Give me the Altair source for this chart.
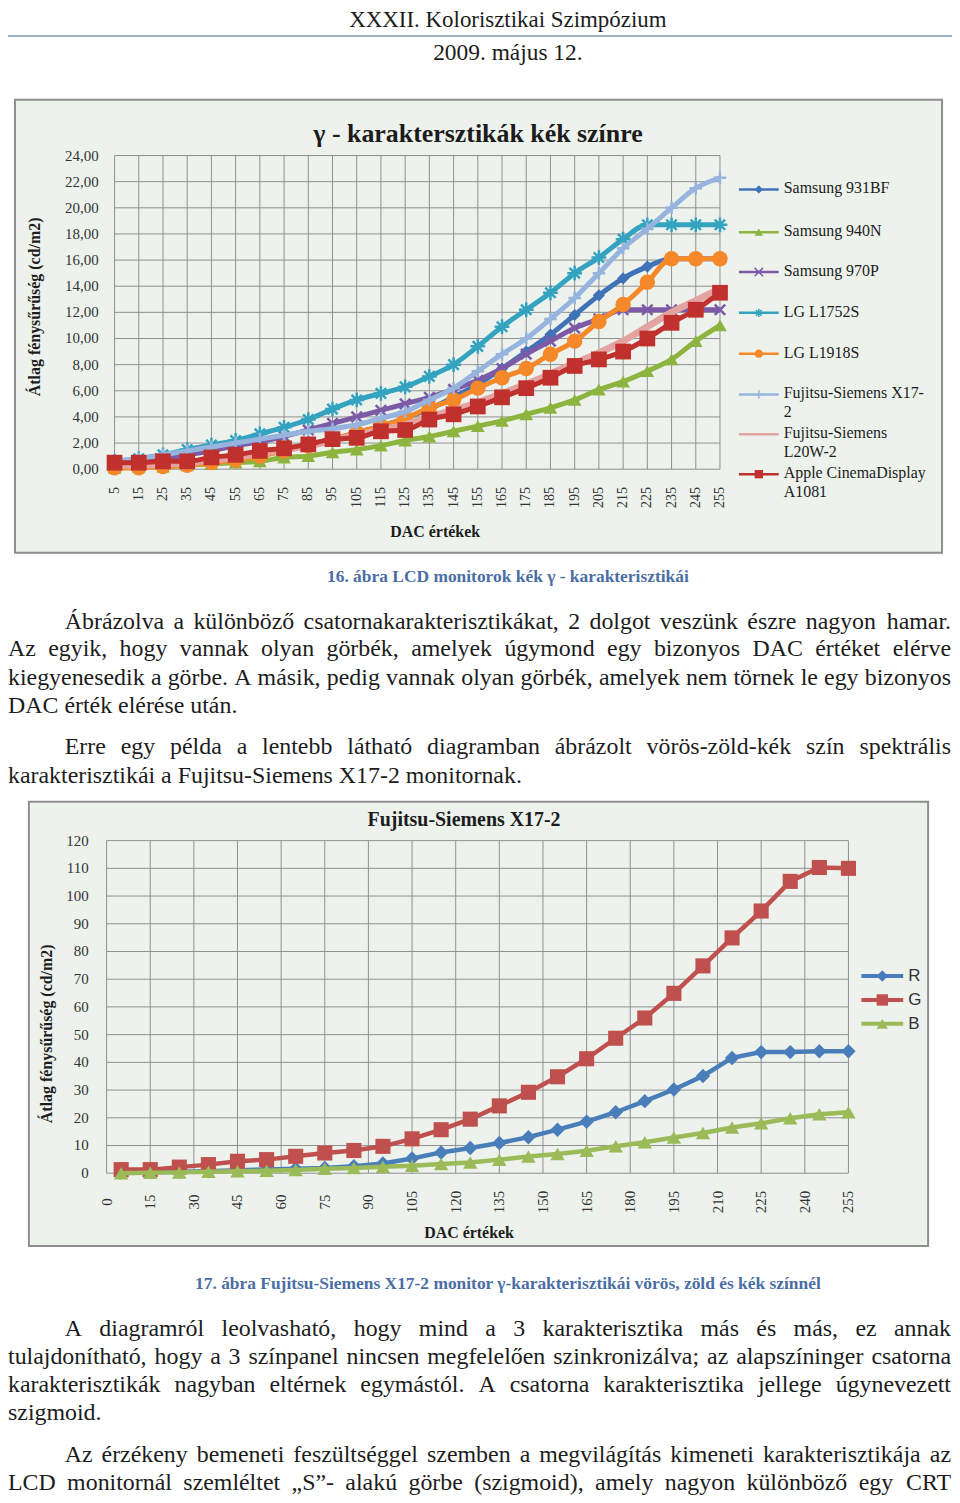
import unicodedata
import altair as alt
import pandas as pd

W, H = 948, 1487


def X(v):
    return v - 8


def Y(v):
    return v - 8


# ---------------- chart 1 data ----------------
dac1 = [5, 15, 25, 35, 45, 55, 65, 75, 85, 95, 105, 115, 125, 135, 145, 155,
        165, 175, 185, 195, 205, 215, 225, 235, 245, 255]
s931bf = [0.1, 0.2, 0.3, 0.4, 0.6, 0.9, 1.2, 1.5, 1.9, 2.3, 2.8, 3.3, 3.9, 4.6,
          5.5, 6.5, 7.7, 9.0, 10.3, 11.8, 13.3, 14.6, 15.5, 16.1, 16.1, 16.1]
s940n = [0.1, 0.2, 0.2, 0.3, 0.4, 0.5, 0.6, 0.9, 1.0, 1.3, 1.5, 1.8, 2.2, 2.5,
         2.9, 3.3, 3.7, 4.2, 4.7, 5.3, 6.1, 6.7, 7.5, 8.4, 9.8, 11.0]
s970p = [0.4, 0.6, 0.8, 1.1, 1.4, 1.8, 2.1, 2.5, 3.0, 3.5, 4.0, 4.5, 5.0, 5.5,
         6.1, 6.8, 7.7, 8.8, 9.8, 10.8, 11.5, 12.2, 12.2, 12.2, 12.2, 12.2]
lg1752 = [0.6, 0.8, 1.1, 1.5, 1.85, 2.2, 2.7, 3.2, 3.8, 4.6, 5.3, 5.8, 6.3, 7.1,
          8.0, 9.4, 10.9, 12.2, 13.5, 15.0, 16.2, 17.6, 18.7, 18.7, 18.7, 18.7]
lg1918 = [0.1, 0.1, 0.2, 0.3, 0.5, 0.7, 1.0, 1.4, 1.8, 2.3, 2.8, 3.3, 3.9, 4.7,
          5.3, 6.2, 7.0, 7.7, 8.8, 9.8, 11.3, 12.6, 14.3, 16.1, 16.1, 16.1]
fsx172 = [0.6, 0.8, 1.1, 1.4, 1.7, 2.0, 2.3, 2.6, 2.9, 3.1, 3.4, 3.9, 4.4, 5.3,
          6.2, 7.5, 8.8, 10.0, 11.5, 13.1, 15.0, 16.9, 18.4, 20.0, 21.5, 22.3]
fsl20w2 = [0.3, 0.3, 0.4, 0.5, 0.7, 0.9, 1.2, 1.5, 1.8, 2.2, 2.6, 3.0, 3.4, 4.0,
           4.5, 5.1, 5.8, 6.5, 7.3, 8.1, 8.9, 9.8, 10.9, 12.0, 12.9, 13.8]
apple = [0.5, 0.5, 0.6, 0.6, 0.9, 1.1, 1.4, 1.6, 1.9, 2.3, 2.4, 2.9, 3.0, 3.8,
         4.2, 4.8, 5.5, 6.2, 7.0, 7.9, 8.4, 9.0, 10.0, 11.2, 12.2, 13.5]
series1 = [s931bf, s940n, s970p, lg1752, lg1918, fsx172, fsl20w2, apple]
legend1_lines = [["Samsung 931BF"], ["Samsung 940N"], ["Samsung 970P"],
                 ["LG L1752S"], ["LG L1918S"], ["Fujitsu-Siemens X17-", "2"],
                 ["Fujitsu-Siemens", "L20W-2"], ["Apple CinemaDisplay", "A1081"]]
y1_ticks = [0, 2, 4, 6, 8, 10, 12, 14, 16, 18, 20, 22, 24]
y1_labels = ["0,00", "2,00", "4,00", "6,00", "8,00", "10,00", "12,00", "14,00",
             "16,00", "18,00", "20,00", "22,00", "24,00"]
title1 = "γ - karaktersztikák kék színre"
ytitle = "Átlag fénysűrűség (cd/m2)"
xtitle = "DAC értékek"

# ---------------- chart 2 data ----------------
dac2 = dac1
r_vals = [0.2, 0.4, 0.5, 0.7, 1.1, 1.3, 1.6, 1.9, 2.5, 3.5, 5.3, 7.5, 9.1, 10.9,
          13.0, 15.7, 18.6, 22.0, 26.0, 30.2, 35.1, 41.6, 43.7, 43.7, 44.0, 44.0]
g_vals = [1.3, 1.3, 2.2, 3.1, 4.3, 4.9, 6.1, 7.3, 8.2, 9.7, 12.4, 15.7, 19.5, 24.3,
          29.2, 34.8, 41.3, 48.7, 56.0, 64.9, 74.8, 84.9, 94.6, 105.3, 110.3, 110.0]
b_vals = [0.0, 0.2, 0.3, 0.5, 0.7, 0.9, 1.2, 1.6, 1.9, 2.3, 2.7, 3.3, 3.9, 4.9,
          6.0, 6.9, 8.1, 9.7, 11.2, 12.9, 14.5, 16.5, 18.0, 19.8, 21.3, 22.0]
series2 = [r_vals, g_vals, b_vals]
legend2 = ["R", "G", "B"]
y2_ticks = [0, 10, 20, 30, 40, 50, 60, 70, 80, 90, 100, 110, 120]
x2_ticks = [0, 15, 30, 45, 60, 75, 90, 105, 120, 135, 150, 165, 180, 195, 210,
            225, 240, 255]
title2 = "Fujitsu-Siemens X17-2"

# ---------------- page text ----------------
header_title = "XXXII. Kolorisztikai Szimpózium"
header_date = "2009. május 12."
caption1 = "16. ábra LCD monitorok kék γ - karakterisztikái"
caption2 = "17. ábra Fujitsu-Siemens X17-2 monitor γ-karakterisztikái vörös, zöld és kék színnél"
para1 = ["Ábrázolva a különböző csatornakarakterisztikákat, 2 dolgot veszünk észre nagyon hamar.",
         "Az egyik, hogy vannak olyan görbék, amelyek úgymond egy bizonyos DAC értéket elérve",
         "kiegyenesedik a görbe. A másik, pedig vannak olyan görbék, amelyek nem törnek le egy bizonyos",
         "DAC érték elérése után."]
para2 = ["Erre egy példa a lentebb látható diagramban ábrázolt vörös-zöld-kék szín spektrális",
         "karakterisztikái a Fujitsu-Siemens X17-2 monitornak."]
para3 = ["A diagramról leolvasható, hogy mind a 3 karakterisztika más és más, ez annak",
         "tulajdonítható, hogy a 3 színpanel nincsen megfelelően szinkronizálva; az alapszíninger csatorna",
         "karakterisztikák nagyban eltérnek egymástól. A csatorna karakterisztika jellege úgynevezett",
         "szigmoid."]
para4 = ["Az érzékeny bemeneti feszültséggel szemben a megvilágítás kimeneti karakterisztikája az",
         "LCD monitornál szemléltet „S”- alakú görbe (szigmoid), amely nagyon különböző egy CRT"]

SERIF = "Liberation Serif"
SANS = "Liberation Sans"
TEXT_COL = "#1c1c1c"
CAP_COL = "#4a6ea5"

layers = []


def one():
    return alt.Chart(pd.DataFrame({"d": [0]}))


def txt(text, x, y, size, bold=False, align="center", baseline="middle",
        angle=0, color=TEXT_COL, font=SERIF):
    kw = dict(align=align, baseline=baseline, fontSize=size, font=font,
              color=color, fontWeight="bold" if bold else "normal")
    if angle:
        kw["angle"] = angle
    return alt.Chart(pd.DataFrame({"t": [text]})).mark_text(**kw).encode(
        x=alt.value(X(x)), y=alt.value(Y(y)), text="t:N")


# ---------------- header ----------------
layers.append(txt(header_title, 510, 24, 23, baseline="alphabetic"))
layers.append(one().mark_rule(color="#9fb2c7", strokeWidth=2).encode(
    x=alt.value(0), x2=alt.value(W), y=alt.value(Y(33))))
layers.append(txt(header_date, 510, 57, 23.5, baseline="alphabetic"))

# ---------------- chart 1 ----------------
BOX_FILL = "#edf2ed"
BOX_STROKE = "#8e8e8e"
GRID = "#8f8f8f"
layers.append(one().mark_rect(fill=BOX_FILL, stroke=BOX_STROKE, strokeWidth=2).encode(
    x=alt.value(X(15)), x2=alt.value(X(946)), y=alt.value(Y(97)), y2=alt.value(Y(552))))

xs1 = alt.Scale(domain=[5, 255], range=[X(115), X(723)], nice=False, zero=False)
ys1 = alt.Scale(domain=[0, 24], range=[Y(468), Y(153)], nice=False, zero=False)

layers.append(alt.Chart(pd.DataFrame({"v": dac1})).mark_rule(color=GRID, strokeWidth=1).encode(
    x=alt.X("v:Q", scale=xs1, axis=None), y=alt.value(Y(153)), y2=alt.value(Y(468))))
layers.append(alt.Chart(pd.DataFrame({"v": y1_ticks})).mark_rule(color=GRID, strokeWidth=1).encode(
    y=alt.Y("v:Q", scale=ys1, axis=None), x=alt.value(X(115)), x2=alt.value(X(723))))
layers.append(alt.Chart(pd.DataFrame({"v": y1_ticks, "t": y1_labels})).mark_text(
    align="right", baseline="middle", font=SERIF, fontSize=15, color="#333333").encode(
    y=alt.Y("v:Q", scale=ys1, axis=None), x=alt.value(X(99)), text="t:N"))
layers.append(alt.Chart(pd.DataFrame({"v": dac1})).mark_text(
    align="right", baseline="middle", angle=270, font=SERIF, fontSize=14, color="#333333").encode(
    x=alt.X("v:Q", scale=xs1, axis=None), y=alt.value(Y(486)), text="v:N"))

ASTER = "M-1,0L1,0M0,-1L0,1M-0.7,-0.7L0.7,0.7M-0.7,0.7L0.7,-0.7"
CROSSX = "M-1,-1L1,1M-1,1L1,-1"
PLUS = "M-1,0L1,0M0,-1L0,1"
styles1 = [
    dict(color="#4072b8", shape="diamond", filled=True, size=150, lw=5),
    dict(color="#8db43e", shape="triangle-up", filled=True, size=190, lw=5),
    dict(color="#7c5aa6", shape=CROSSX, filled=False, size=110, lw=5),
    dict(color="#33a3c0", shape=ASTER, filled=False, size=220, lw=5),
    dict(color="#f5892a", shape="circle", filled=True, size=240, lw=5),
    dict(color="#97b4de", shape=PLUS, filled=False, size=160, lw=5),
    dict(color="#e3a3a1", shape=None, filled=True, size=0, lw=7),
    dict(color="#c0302c", shape="square", filled=True, size=250, lw=5),
]
for vals, st in zip(series1, styles1):
    df = pd.DataFrame({"x": dac1, "y": vals})
    enc = dict(x=alt.X("x:Q", scale=xs1, axis=None), y=alt.Y("y:Q", scale=ys1, axis=None))
    layers.append(alt.Chart(df).mark_line(color=st["color"], strokeWidth=st["lw"],
                                          interpolate="monotone").encode(**enc))
    if st["shape"]:
        pk = dict(shape=st["shape"], filled=st["filled"], size=st["size"],
                  color=st["color"], opacity=1)
        if not st["filled"]:
            pk["strokeWidth"] = 2.5
        layers.append(alt.Chart(df).mark_point(**pk).encode(**enc))

# legend 1
leg1_sym_y = [187, 230, 270, 311, 352, 393, 433, 473]
for lines, st, sy in zip(legend1_lines, styles1, leg1_sym_y):
    layers.append(one().mark_rule(color=st["color"], strokeWidth=2.5).encode(
        x=alt.value(X(742)), x2=alt.value(X(782)), y=alt.value(Y(sy))))
    if st["shape"]:
        pk = dict(shape=st["shape"], filled=st["filled"], size=70, color=st["color"], opacity=1)
        if not st["filled"]:
            pk["strokeWidth"] = 1.5
        layers.append(one().mark_point(**pk).encode(x=alt.value(X(762)), y=alt.value(Y(sy))))
    for k, line in enumerate(lines):
        layers.append(txt(line, 787, sy - 1 + k * 18.5, 16, align="left"))

layers.append(txt(title1, 480, 131, 26, bold=True))
layers.append(txt(ytitle, 35, 305, 16, bold=True, angle=270))
layers.append(txt(xtitle, 437, 531, 16, bold=True))
layers.append(txt(caption1, 510, 576, 17.5, bold=True, color=CAP_COL))

# ---------------- chart 2 ----------------
layers.append(one().mark_rect(fill=BOX_FILL, stroke=BOX_STROKE, strokeWidth=2).encode(
    x=alt.value(X(29)), x2=alt.value(X(932)), y=alt.value(Y(802)), y2=alt.value(Y(1248))))
xs2 = alt.Scale(domain=[0, 255], range=[X(107), X(852)], nice=False, zero=False)
ys2 = alt.Scale(domain=[0, 120], range=[Y(1175), Y(841)], nice=False, zero=False)
layers.append(alt.Chart(pd.DataFrame({"v": x2_ticks})).mark_rule(color=GRID, strokeWidth=1).encode(
    x=alt.X("v:Q", scale=xs2, axis=None), y=alt.value(Y(841)), y2=alt.value(Y(1175))))
layers.append(alt.Chart(pd.DataFrame({"v": y2_ticks})).mark_rule(color=GRID, strokeWidth=1).encode(
    y=alt.Y("v:Q", scale=ys2, axis=None), x=alt.value(X(107)), x2=alt.value(X(852))))
layers.append(alt.Chart(pd.DataFrame({"v": y2_ticks})).mark_text(
    align="right", baseline="middle", font=SERIF, fontSize=15, color="#333333").encode(
    y=alt.Y("v:Q", scale=ys2, axis=None), x=alt.value(X(89)), text="v:N"))
layers.append(alt.Chart(pd.DataFrame({"v": x2_ticks})).mark_text(
    align="center", baseline="middle", angle=270, font=SERIF, fontSize=15, color="#333333").encode(
    x=alt.X("v:Q", scale=xs2, axis=None), y=alt.value(Y(1204)), text="v:N"))

styles2 = [
    dict(color="#4a7ebb", shape="diamond", size=210),
    dict(color="#c0504d", shape="square", size=230),
    dict(color="#9bbb59", shape="triangle-up", size=210),
]
for vals, st in zip(series2, styles2):
    df = pd.DataFrame({"x": dac2, "y": vals})
    enc = dict(x=alt.X("x:Q", scale=xs2, axis=None), y=alt.Y("y:Q", scale=ys2, axis=None))
    layers.append(alt.Chart(df).mark_line(color=st["color"], strokeWidth=4.5).encode(**enc))
    layers.append(alt.Chart(df).mark_point(shape=st["shape"], filled=True, size=st["size"],
                                           color=st["color"], opacity=1).encode(**enc))

leg2_y = [977, 1001, 1025]
for lab, st, sy in zip(legend2, styles2, leg2_y):
    layers.append(one().mark_rule(color=st["color"], strokeWidth=4).encode(
        x=alt.value(X(865)), x2=alt.value(X(907)), y=alt.value(Y(sy))))
    layers.append(one().mark_point(shape=st["shape"], filled=True, size=130,
                                   color=st["color"], opacity=1).encode(
        x=alt.value(X(886)), y=alt.value(Y(sy))))
    layers.append(txt(lab, 912, sy, 17, align="left", font=SANS, color="#333333"))

layers.append(txt(title2, 466, 820, 20, bold=True))
layers.append(txt(ytitle, 47, 1035, 16, bold=True, angle=270))
layers.append(txt(xtitle, 471, 1235, 16, bold=True))
layers.append(txt(caption2, 510, 1286, 17.5, bold=True, color=CAP_COL))

# ---------------- body text (justified) ----------------
TW = {' ': 250, '!': 333, '"': 408, '(': 333, ')': 333, ',': 250, '-': 333, '.': 250,
      '/': 278, ':': 278, ';': 278, '„': 444, '”': 444,
      'A': 722, 'B': 667, 'C': 667, 'D': 722, 'E': 611, 'F': 556, 'G': 722, 'H': 722,
      'I': 333, 'J': 389, 'K': 722, 'L': 611, 'M': 889, 'N': 722, 'O': 722, 'P': 556,
      'Q': 722, 'R': 667, 'S': 556, 'T': 611, 'U': 722, 'V': 722, 'W': 944, 'X': 722,
      'Y': 722, 'Z': 611,
      'a': 444, 'b': 500, 'c': 444, 'd': 500, 'e': 444, 'f': 333, 'g': 500, 'h': 500,
      'i': 278, 'j': 278, 'k': 500, 'l': 278, 'm': 778, 'n': 500, 'o': 500, 'p': 500,
      'q': 500, 'r': 333, 's': 389, 't': 278, 'u': 500, 'v': 500, 'w': 722, 'x': 500,
      'y': 500, 'z': 444}
for dgt in "0123456789":
    TW[dgt] = 500


def cw(ch):
    if ch in TW:
        return TW[ch]
    base = unicodedata.normalize("NFD", ch)[0]
    return TW.get(base, 500)


BODY = 24
LEFT, RIGHT, INDENT = 8, 955, 65


def word_w(w):
    return sum(cw(c) for c in w) * BODY / 1000.0


left_rows, right_rows = [], []


def add_par(lines, baselines):
    for i, (line, by) in enumerate(zip(lines, baselines)):
        x0 = INDENT if i == 0 else LEFT
        last = i == len(lines) - 1
        words = line.split(" ")
        if last or len(words) < 2:
            left_rows.append({"w": line, "x": X(x0), "y": Y(by)})
            continue
        ws = [word_w(w) for w in words]
        gap = (RIGHT - x0 - sum(ws)) / (len(words) - 1)
        x = x0
        for j, (w, wd) in enumerate(zip(words, ws)):
            if j == len(words) - 1:
                right_rows.append({"w": w, "x": X(RIGHT), "y": Y(by)})
            else:
                left_rows.append({"w": w, "x": X(x), "y": Y(by)})
            x += wd + gap


add_par(para1, [628, 656, 685, 713])
add_par(para2, [754, 783])
add_par(para3, [1338, 1367, 1395, 1423])
# last paragraph continues on next page: justify both lines
add_par(para4 + [""], [1465, 1493, 2000])
left_rows = [r for r in left_rows if r["w"] != ""]

for rows, al in ((left_rows, "left"), (right_rows, "right")):
    layers.append(alt.Chart(pd.DataFrame(rows)).mark_text(
        align=al, baseline="alphabetic", font=SERIF, fontSize=BODY, color=TEXT_COL).encode(
        x=alt.X("x:Q", scale=None), y=alt.Y("y:Q", scale=None), text="w:N"))

chart = alt.layer(*layers).resolve_scale(x="independent", y="independent").properties(
    width=W, height=H, padding=0, autosize=alt.AutoSizeParams(type="none")
).configure_view(strokeWidth=0)

chart.save("out.html", embed_options={"renderer": "svg", "actions": False})
